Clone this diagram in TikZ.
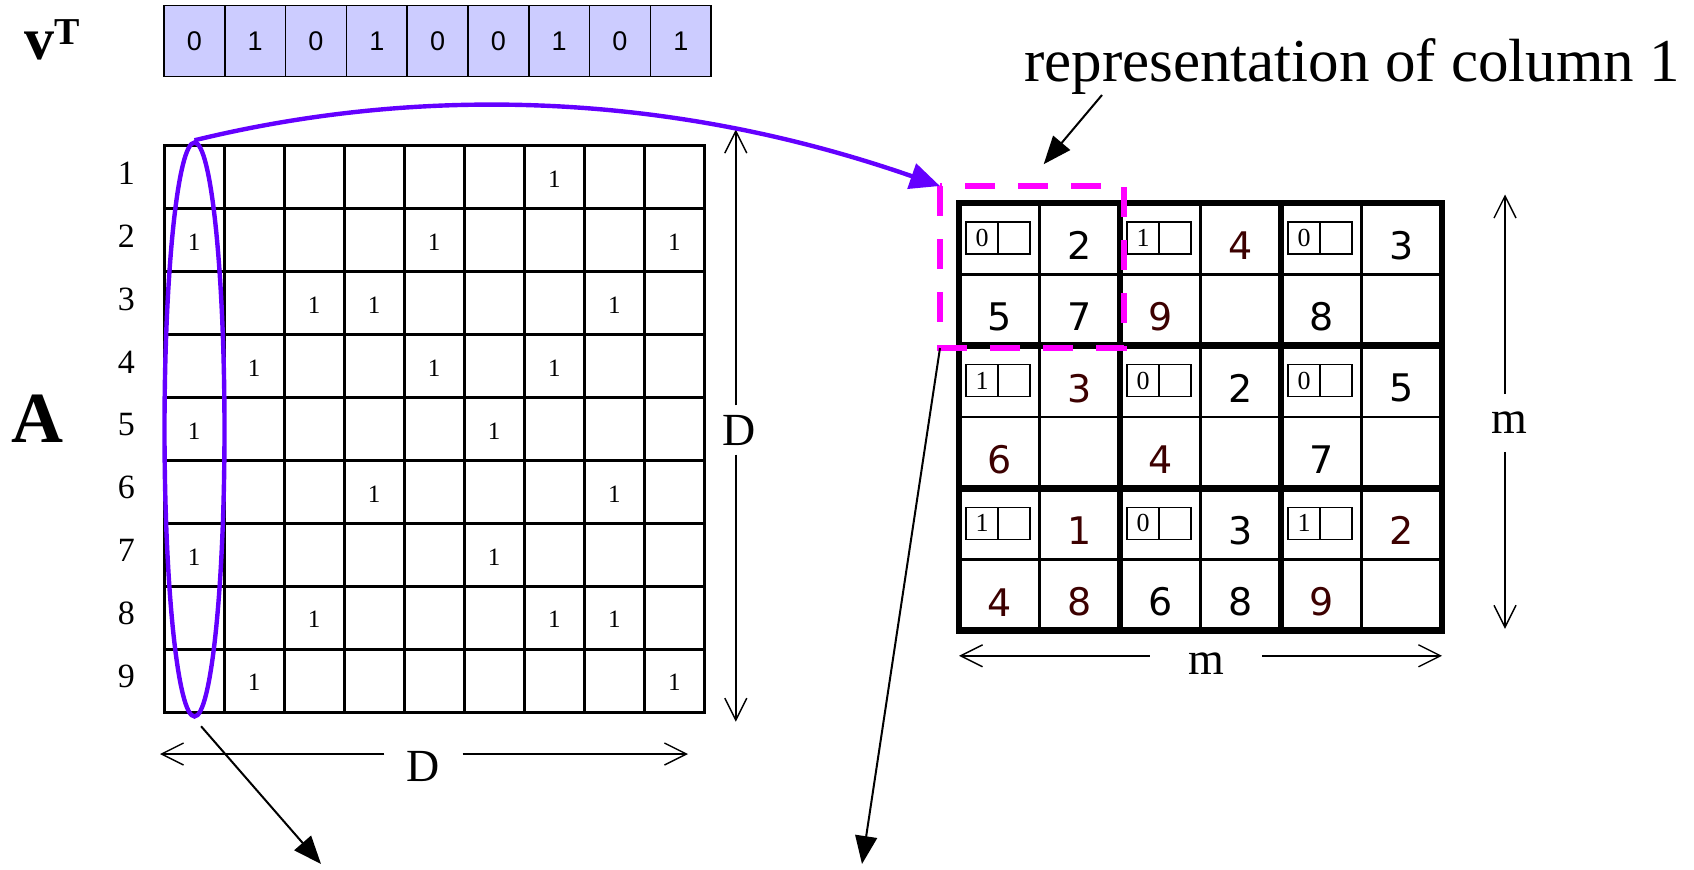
\documentclass[tikz,border=0pt]{standalone}
\usepackage{fontspec}
\setmainfont{Liberation Serif}
\newfontfamily\gridsans{DejaVu Sans}
\newfontfamily\vecsans{Liberation Sans}
\usetikzlibrary{shapes.geometric,arrows.meta}
\definecolor{vecfill}{RGB}{204,204,255}
\definecolor{colpurple}{RGB}{100,0,255}
\definecolor{darkmaroon}{RGB}{60,0,0}
\definecolor{dashmag}{RGB}{255,0,255}
\begin{document}
\begin{tikzpicture}[x=0.5pt,y=-0.5pt,
  vcell/.style={draw, line width=0.8pt, fill=vecfill, minimum width=30.4pt, minimum height=35.6pt, inner sep=0pt, font=\vecsans\fontsize{13.5}{14}\selectfont},
  rowlab/.style={font=\fontsize{17}{18}\selectfont},
  entry/.style={font=\fontsize{12.5}{13}\selectfont},
  bigdig/.style={font=\gridsans\fontsize{19}{20}\selectfont},
  bitsq/.style={draw, line width=0.6pt, minimum size=16pt, inner sep=0pt, font=\fontsize{13}{13}\selectfont},
  dimhalf/.style={line width=0.7pt, -{Straight Barb[length=11pt,width=11pt]}},
  Dlabel/.style={inner ysep=4.5pt, text height=15.2pt, text depth=0pt, font=\fontsize{23}{24}\selectfont},
  mlabel/.style={inner ysep=9pt, text height=10.5pt, text depth=0pt, font=\fontsize{23}{24}\selectfont},
  pointer/.style={line width=1pt, -{Triangle[length=14pt,width=11pt]}},
  gridline/.style={line width=1.5pt},
  thinline/.style={line width=1.3pt},
  thickline/.style={line width=3.4pt},
]
\useasboundingbox (0,0) rectangle (1694,869);

% ---------- vector v^T ----------
\node[anchor=base west, font=\bfseries\fontsize{30}{30}\selectfont, inner sep=0pt] (vlabel) at (23.8,59.4)
  {v\raisebox{7.4pt}{\fontsize{19}{19}\selectfont T}};
\foreach \b [count=\i] in {0,1,0,1,0,0,1,0,1}
  \node[vcell] (v-\i) at ({164+(\i-0.5)*60.8},41) {\b};

% ---------- matrix A ----------
\foreach \i in {0,...,9} {
  \draw[gridline] ({164+\i*60.04},145.9) -- ({164+\i*60.04},712);
  \draw[gridline] (164,{145.9+\i*62.9}) -- (704.4,{145.9+\i*62.9});
}
\draw[gridline, line join=miter] (164,145.9) rectangle (704.4,712);
\foreach \r in {1,...,9}
  \node[rowlab] (row-\r) at (126.4,{145.9+(\r-0.5)*62.9-4}) {\r};
\foreach \r/\c in {1/7, 2/1, 2/5, 2/9, 3/3, 3/4, 3/8, 4/2, 4/5, 4/7, 5/1, 5/6, 6/4, 6/8, 7/1, 7/6, 8/3, 8/7, 8/8, 9/2, 9/9}
  \node[entry] (a-\r-\c) at ({164+(\c-0.5)*60.04},{145.9+(\r-0.5)*62.9+2}) {1};
\node[font=\bfseries\fontsize{36}{36}\selectfont] (Alabel) at (37.8,419) {A};

% dimension arrows D
\coordinate (Dvtop) at (735.8,129.6);
\coordinate (Dvbot) at (735.8,721.7);
\node[Dlabel] (Dv) at (739,430) {D};
\draw[dimhalf] (Dvtop |- Dv.north) -- (Dvtop);
\draw[dimhalf] (Dvbot |- Dv.south) -- (Dvbot);
\coordinate (Dhl) at (160,754);
\coordinate (Dhr) at (688,754);
\node[Dlabel, inner xsep=11pt] (Dh) at (423.5,766) {D};
\draw[dimhalf] (Dh.west |- Dhl) -- (Dhl);
\draw[dimhalf] (Dh.east |- Dhr) -- (Dhr);

% ---------- compressed representation ----------
\foreach \i in {1,3,5} {
  \draw[thinline] ({959+\i*80.5},203) -- ({959+\i*80.5},630.8);
  \draw[thinline] (959,{203+\i*71.3}) -- (1442,{203+\i*71.3});
}
\foreach \i in {2,4} {
  \draw[thickline] ({959+\i*80.5},203) -- ({959+\i*80.5},630.8);
  \draw[thickline] (959,{203+\i*71.3}) -- (1442,{203+\i*71.3});
}
\draw[thickline, line join=miter] (959,203) rectangle (1442,630.8);

\foreach \bi/\bj/\b in {0/0/0, 0/1/1, 0/2/0, 1/0/1, 1/1/0, 1/2/0, 2/0/1, 2/1/0, 2/2/1} {
  \node[bitsq] (bit-\bi-\bj) at ({959+2*\bj*80.5+7+16},{203+2*\bi*71.3+19+16}) {\b};
  \node[bitsq] (bitr-\bi-\bj) at ({959+2*\bj*80.5+7+48},{203+2*\bi*71.3+19+16}) {};
}
\foreach \bi/\bj/\cx/\cy/\d/\col in {
  0/0/1/0/2/black, 0/0/0/1/5/black, 0/0/1/1/7/black,
  0/1/1/0/4/darkmaroon, 0/1/0/1/9/darkmaroon,
  0/2/1/0/3/black, 0/2/0/1/8/black,
  1/0/1/0/3/darkmaroon, 1/0/0/1/6/darkmaroon,
  1/1/1/0/2/black, 1/1/0/1/4/darkmaroon,
  1/2/1/0/5/black, 1/2/0/1/7/black,
  2/0/1/0/1/darkmaroon, 2/0/0/1/4/darkmaroon, 2/0/1/1/8/darkmaroon,
  2/1/1/0/3/black, 2/1/0/1/6/black, 2/1/1/1/8/black,
  2/2/1/0/2/darkmaroon, 2/2/0/1/9/darkmaroon}
  \node[bigdig, text=\col] (g-\bi-\bj-\cx-\cy) at ({959+(2*\bj+\cx+0.5)*80.5},{203+(2*\bi+\cy+0.5)*71.3+7}) {\d};

% dimension arrows m
\coordinate (mvtop) at (1505,194.5);
\coordinate (mvbot) at (1505,628.8);
\node[mlabel] (mv) at (1509,423) {m};
\draw[dimhalf] (mvtop |- mv.north) -- (mvtop);
\draw[dimhalf] (mvbot |- mv.south) -- (mvbot);
\coordinate (mhl) at (959,655.8);
\coordinate (mhr) at (1442,655.8);
\node[mlabel, inner xsep=19pt] (mh) at (1206,664) {m};
\draw[dimhalf] (mh.west |- mhl) -- (mhl);
\draw[dimhalf] (mh.east |- mhr) -- (mhr);

% dashed column representation
\coordinate (repNW) at (940,186);
\coordinate (repSE) at (1123.6,348);
\coordinate (repSW) at (940,348);
\draw[dashmag, line width=3pt, dash pattern=on 15pt off 11.5pt] (repNW) rectangle (repSE);

% column ellipse and its arrow
\node[draw=colpurple, line width=2.2pt, ellipse, minimum width=30pt, minimum height=287pt, inner sep=0pt] (col1) at (194.5,429.5) {};
\draw[colpurple, line width=2.2pt, -{Triangle[length=15pt,width=13pt]}] (col1.north) .. controls (400,90) and (650,85) .. (repNW);

% label and pointers
\node[anchor=base, font=\fontsize{30.5}{31}\selectfont, inner sep=0pt] (replabel) at (1352,81) {representation of column 1};
\coordinate (lblstart) at (1102,95);
\coordinate (lblend) at (1043.7,164.2);
\draw[pointer] (lblstart) -- (lblend);
\coordinate (leftend) at (321,864);
\draw[pointer, shorten <=5pt] (col1.south) -- (leftend);
\coordinate (rightend) at (862,864);
\draw[pointer] (repSW) -- (rightend);
\end{tikzpicture}
\end{document}
